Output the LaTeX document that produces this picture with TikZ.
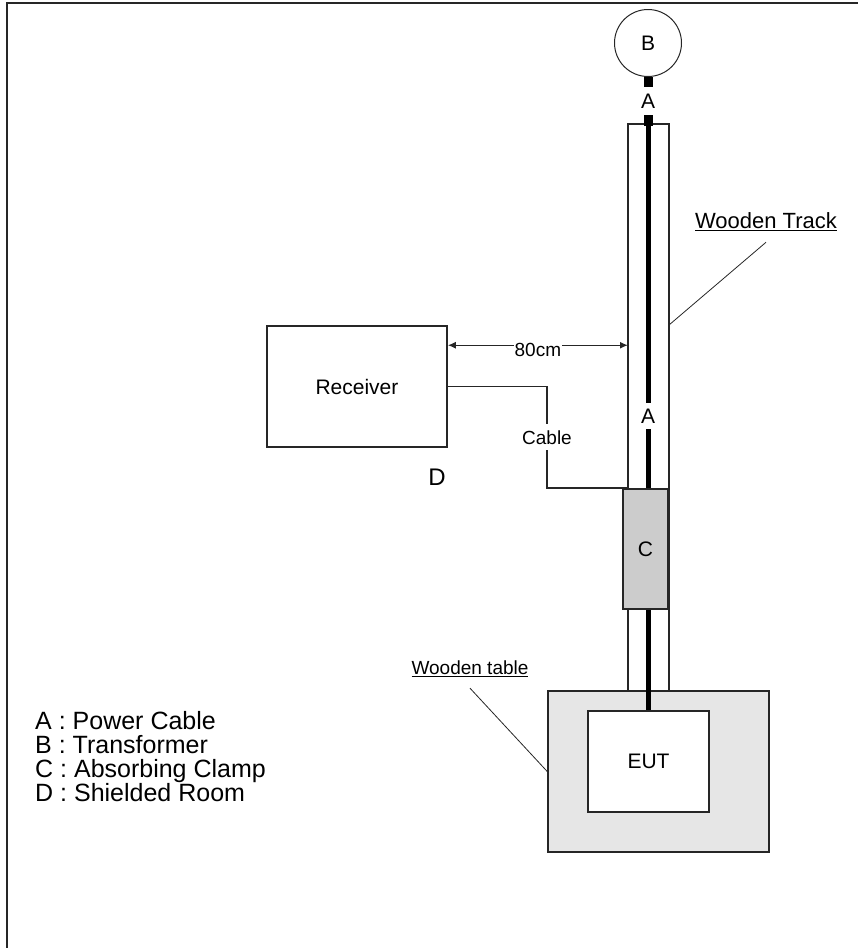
\documentclass[tikz,border=0pt]{standalone}
\usepackage{fontspec}
\setmainfont{Liberation Sans}
\usetikzlibrary{positioning,arrows.meta}
\definecolor{clampgray}{HTML}{CCCCCC}
\definecolor{tablegray}{HTML}{E6E6E6}
\tikzset{
  box/.style={draw=black!85, line width=1.5pt, inner sep=0pt, font=\fontsize{21}{25}\selectfont},
  tag/.style={inner sep=1pt, font=\fontsize{21}{25}\selectfont},
  small/.style={inner sep=1pt, font=\fontsize{19}{23}\selectfont},
  key/.style={anchor=base west, inner sep=0pt, font=\fontsize{25}{29}\selectfont},
  plug/.style={fill=black, minimum width=9pt, minimum height=10pt, inner sep=0pt},
  wire/.style={draw=black!85, line width=1.5pt},
  powercable/.style={line width=5pt},
  leader/.style={draw=black!85, line width=0.8pt},
}
\begin{document}
\begin{tikzpicture}[x=1pt,y=-1pt]
  \useasboundingbox (0,0) rectangle (858,948);
  \draw[line width=2pt, black!85] (858,3) -- (7,3) -- (7,948);

  \coordinate (tl) at (628,124);
  \coordinate (tr) at (669,124);

  \node[box, circle, line width=1pt, minimum size=67pt] (trafo) at (648,43) {B};
  \node[plug] (plugtop) at (648,81.5) {};
  \node[tag] (atop) at (648,101) {A};

  \node[box, fill=tablegray, minimum width=221pt, minimum height=161pt] (table) at (658.5,771.5) {};
  \draw[wire] (tl |- table.north) -- (tl) -- (tr) -- (tr |- table.north);
  \node[box, fill=white, minimum width=121pt, minimum height=101pt] (eut) at (648.5,761.5) {EUT};

  \node[tag, inner ysep=6pt] (amid) at (648,416) {A};
  \node[plug, minimum height=11pt] (plugtrack) at (648,120.5) {};
  \draw[powercable] (plugtrack.south) -- (amid.north);
  \draw[powercable] (amid.south) -- (amid.south |- eut.north);
  \node[box, fill=clampgray, minimum width=45pt, minimum height=120pt] (clamp) at (645.5,549) {C};

  \node[box, minimum width=180pt, minimum height=121pt] (receiver) at (357,386.5) {Receiver};
  \node[tag, font=\fontsize{24}{28}\selectfont] (room) at (437,477) {D};

  \draw[wire, {Latex[length=8pt,width=7pt]}-{Latex[length=8pt,width=7pt]}]
    ([yshift=-20pt]receiver.north east) -- node[small, fill=white, yshift=-5pt] (dist) {80cm}
    ([yshift=-20pt]receiver.north east -| tl);

  \coordinate (bend) at (547,488);
  \draw[wire] (receiver.east) -- (bend |- receiver.east) -- node[small, fill=white, inner ysep=6pt] (cablelabel) {Cable} (bend) -- (bend -| tl);

  \node[tag, font=\fontsize{22}{26}\selectfont] (tracklabel) at (766,222) {\underline{Wooden Track}};
  \draw[leader] ([yshift=-10pt]tracklabel.south) -- (tr |- 0,325);

  \node[small] (tablelabel) at (470,669) {\underline{Wooden table}};
  \draw[leader] ([yshift=-10pt]tablelabel.south) -- (table.west);

  \foreach \k/\t [count=\i] in {A/Power Cable, B/Transformer, C/Absorbing Clamp, D/Shielded Room}
    \node[key] (key\i) at (35,705+24*\i) {\k\ : \t};
\end{tikzpicture}
\end{document}
